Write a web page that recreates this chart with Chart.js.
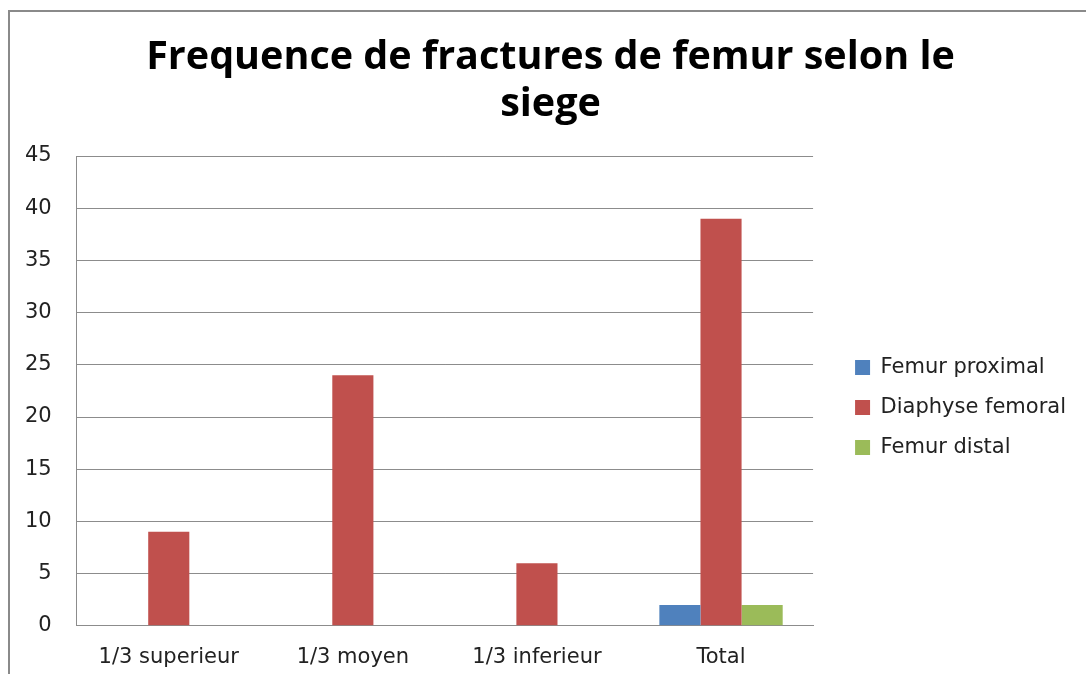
<!DOCTYPE html>
<html>
<head>
<meta charset="utf-8">
<script src="https://cdn.jsdelivr.net/npm/chart.js@4.4.1/dist/chart.umd.min.js"></script>
<style>
  html, body { margin: 0; padding: 0; background: #fff; overflow: hidden; }
  #wrap { position: relative; width: 1086px; height: 674px; }
  #frame { position: absolute; left: 8px; top: 10px; width: 1200px; height: 800px; border: 2px solid #8a8a8a; }
  canvas { position: absolute; left: 0; top: 0; }
</style>
</head>
<body>
<div id="wrap">
  <div id="frame"></div>
  <canvas id="chart" width="1086" height="674"></canvas>
</div>
<script>
const categories = ['1/3 superieur', '1/3 moyen', '1/3 inferieur', 'Total'];
const femurProximal = [0, 0, 0, 2];
const diaphyseFemoral = [9, 24, 6, 39];
const femurDistal = [0, 0, 0, 2];
const yMin = 0, yMax = 45, yStep = 5;

// nudge legend + title to where excel put them
const legendGap = {
    id: 'legendGap',
    afterLayout(chart) {
        chart.legend.left += 23;
        chart.legend.right += 23;
        chart.legend.top += 58;
        chart.legend.bottom += 58;
        chart.titleBlock.left += 24;
        chart.titleBlock.right += 24;
    }
};

const gridColor = '#8c8c8c';

new Chart(document.getElementById('chart'), {
    type: 'bar',
    data: {
        labels: categories,
        datasets: [
            { label: 'Femur proximal', data: femurProximal, backgroundColor: '#4F81BD' },
            { label: 'Diaphyse femoral', data: diaphyseFemoral, backgroundColor: '#C0504D' },
            { label: 'Femur distal', data: femurDistal, backgroundColor: '#9BBB59' }
        ]
    },
    options: {
        responsive: false,
        animation: false,
        layout: { padding: { left: 0, right: 33, top: 10, bottom: -15 } },
        datasets: { bar: { categoryPercentage: 0.67, barPercentage: 1.0 } },
        plugins: {
            title: {
                display: true,
                text: ['Frequence de fractures de femur selon le', 'siege'],
                color: '#000',
                font: { family: 'Open Sans', size: 39.5, weight: 'bold', lineHeight: 1.19 },
                padding: { top: 24, bottom: 28 }
            },
            legend: {
                position: 'right',
                labels: {
                    boxWidth: 15,
                    boxHeight: 15,
                    padding: 19,
                    color: '#222',
                    font: { family: 'DejaVu Sans', size: 21 }
                }
            },
            tooltip: { enabled: false }
        },
        scales: {
            x: {
                grid: { display: false, drawTicks: false },
                border: { color: gridColor, width: 1 },
                ticks: { color: '#222', padding: 19, font: { family: 'DejaVu Sans', size: 21 } }
            },
            y: {
                min: yMin,
                max: yMax,
                grid: { color: gridColor, drawTicks: false },
                border: { color: gridColor, width: 1 },
                ticks: { stepSize: yStep, color: '#222', padding: 25, font: { family: 'DejaVu Sans', size: 21 } }
            }
        }
    },
    plugins: [legendGap]
});
</script>
</body>
</html>
